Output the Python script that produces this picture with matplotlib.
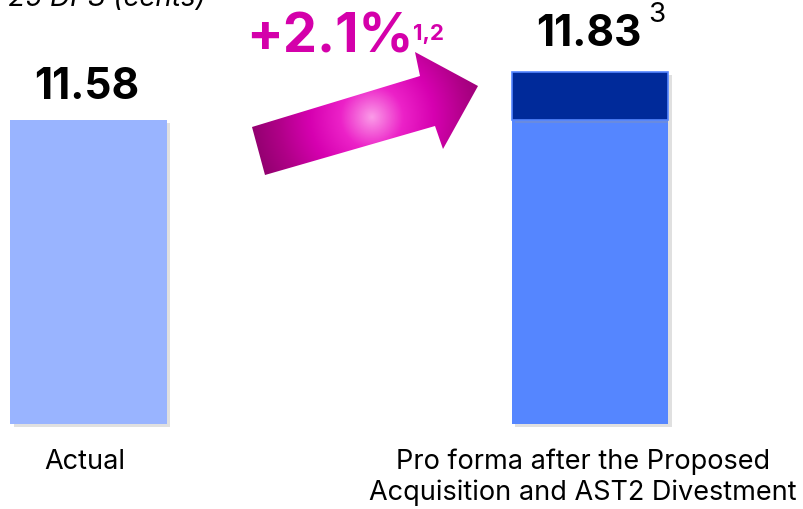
import numpy as np
import matplotlib
matplotlib.use("Agg")
import matplotlib.pyplot as plt
from matplotlib.patches import Polygon
from matplotlib.colors import LinearSegmentedColormap
import matplotlib.patheffects as pe

plt.rcParams['font.family'] = ['Inter', 'DejaVu Sans']

# Données
categories = ['Actual', 'Pro forma after the Proposed\nAcquisition and AST2 Divestment']
base_values = [11.58, 11.58]       # partie claire de chaque barre
uplift_values = [0.0, 0.25]        # partie foncée (apport de l'acquisition)
value_labels = ['11.58', '11.83']
growth_label = '+2.1%'
axis_floor = 10.0                  # l'axe ne commence pas à zéro

base_colors = ['#99B4FF', '#5586FF']
uplift_color = '#002A9A'
magenta = '#D400AA'

fig = plt.figure(figsize=(8.04, 5.09), dpi=100)
ax = fig.add_axes([0, 0, 1, 1])
ax.set_xlim(-0.1765, 1.4267)
ax.set_ylim(9.558, 12.204)
ax.axis('off')

x = np.arange(len(categories))
width = 0.313
shadow = [pe.SimplePatchShadow(offset=(2.5, -2), shadow_rgbFace='#999999', alpha=0.3), pe.Normal()]

bars = ax.bar(x, np.array(base_values) - axis_floor, width, bottom=axis_floor,
              color=base_colors, zorder=2)
for b in bars:
    b.set_path_effects(shadow)
top = ax.bar(x[1:], uplift_values[1:], width, bottom=base_values[1:],
             color=uplift_color, edgecolor=base_colors[1], linewidth=1.2, zorder=2)
for b in top:
    b.set_path_effects(shadow)

totals = np.array(base_values) + np.array(uplift_values)
offsets = [15, 19]
for xi, tot, lab, off in zip(x, totals, value_labels, offsets):
    ax.annotate(lab, (xi, tot), xytext=(-1, off), textcoords='offset points',
                ha='center', va='baseline', fontsize=30.5, fontweight='bold', color='black')
# renvoi de note sur le pro forma
ax.annotate('3', (x[1], totals[1]), xytext=(48, 36), textcoords='offset points',
            ha='center', va='baseline', fontsize=20, color='black')

label_dx = [-3, -5]
for xi, cat, dx in zip(x, categories, label_dx):
    ax.annotate(cat, (xi, axis_floor), xytext=(dx, -18), textcoords='offset points',
                ha='center', va='top', fontsize=19.5, color='black', linespacing=1.2)

# titre coupé en haut
fig.text(206 / 804, 1 - 6 / 509, 'FY25 DPS (cents)', ha='right', va='baseline',
         fontsize=20, style='italic', color='black')

# flèche avec dégradé radial (en pixels de la figure)
ov = fig.add_axes([0, 0, 1, 1])
ov.set_xlim(0, 804)
ov.set_ylim(509, 0)
ov.axis('off')
pts = [(252, 127), (420, 76), (415, 52), (478, 86), (443, 149), (435, 126), (265, 175)]
poly = Polygon(pts, closed=True, facecolor='none', edgecolor='none')
ov.add_patch(poly)
gx, gy = np.meshgrid(np.linspace(240, 490, 300), np.linspace(40, 185, 200))
r = np.hypot(gx - 372, gy - 117) / 125
cmap = LinearSegmentedColormap.from_list('mag', ['#FB9BE8', '#EC22C8', '#D600B0', '#B00088', '#8E006C'])
im = ov.imshow(np.clip(r, 0, 1), extent=(240, 490, 185, 40), cmap=cmap,
               vmin=0, vmax=1, aspect='auto', interpolation='bilinear')
im.set_clip_path(poly)
ov.set_xlim(0, 804)
ov.set_ylim(509, 0)

ov.text(330, 52, growth_label, ha='center', va='baseline', fontsize=39,
        fontweight='bold', color=magenta)
ov.text(413, 40, '1,2', ha='left', va='baseline', fontsize=16,
        fontweight='bold', color=magenta)

fig.savefig('out.png', dpi=100)
